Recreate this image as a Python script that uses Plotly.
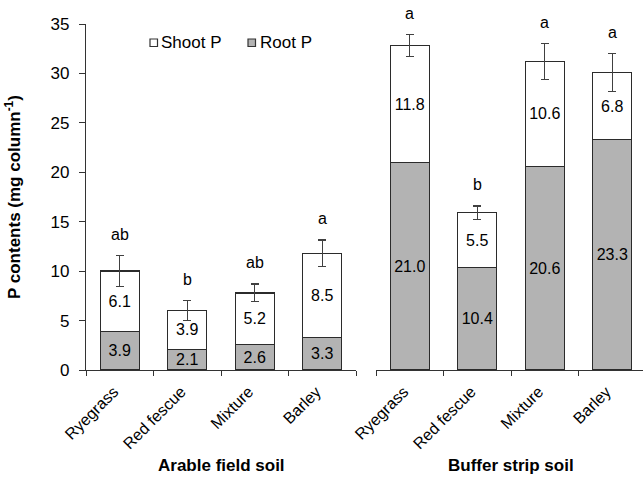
import plotly.graph_objects as go

categories = ["Ryegrass", "Red fescue", "Mixture", "Barley"]
groups = ["Arable field soil", "Buffer strip soil"]

arable_root = [3.9, 2.1, 2.6, 3.3]
arable_shoot = [6.1, 3.9, 5.2, 8.5]
arable_err = [1.55, 1.0, 0.9, 1.35]
arable_letters = ["ab", "b", "ab", "a"]

buffer_root = [21.0, 10.4, 20.6, 23.3]
buffer_shoot = [11.8, 5.5, 10.6, 6.8]
buffer_err = [1.1, 0.7, 1.8, 1.9]
buffer_letters = ["a", "b", "a", "a"]

FONT = "Arial, Liberation Sans, sans-serif"
GRAY = "#b3b3b3"
EDGE = "#2b2b2b"
ERRC = "#404040"

W, H = 643, 481
ML, MR, MT, MB = 86, 0, 24, 111
PW = W - ML - MR
PH = H - MT - MB

def px_x(p):
    return (p - ML) / PW

def px_y(p):
    return (H - MB - p) / PH

fig = go.Figure()

datasets = [
    ("x", arable_root, arable_shoot, arable_err, arable_letters),
    ("x2", buffer_root, buffer_shoot, buffer_err, buffer_letters),
]

annotations = []
for xa, root, shoot, err, letters in datasets:
    fig.add_trace(go.Bar(
        x=categories, y=root, xaxis=xa, yaxis="y",
        marker=dict(color=GRAY, line=dict(color=EDGE, width=1.3)),
        width=0.58, text=[f"{v:.1f}" for v in root],
        textposition="inside", insidetextanchor="middle",
        textfont=dict(family=FONT, size=16, color="black"),
        showlegend=False, name="Root P",
    ))
    fig.add_trace(go.Bar(
        x=categories, y=shoot, xaxis=xa, yaxis="y",
        marker=dict(color="white", line=dict(color=EDGE, width=1.3)),
        width=0.58, text=[f"{v:.1f}" for v in shoot],
        textposition="inside", insidetextanchor="middle",
        textfont=dict(family=FONT, size=16, color="black"),
        error_y=dict(type="data", array=err, visible=True, color=ERRC,
                     thickness=1.2, width=4),
        showlegend=False, name="Shoot P",
    ))
    for c, r, s, e, l in zip(categories, root, shoot, err, letters):
        annotations.append(dict(
            x=c, y=r + s + e, xref=xa, yref="y", text=l, showarrow=False,
            yanchor="bottom", yshift=11,
            font=dict(family=FONT, size=16, color="black"),
        ))

# group titles
g1c = px_x((86 + 356) / 2)
g2c = px_x((376 + 646) / 2)
for gx, gt in zip([g1c, g2c], groups):
    annotations.append(dict(
        x=gx, y=px_y(465), xref="paper", yref="paper", text=f"<b>{gt}</b>",
        showarrow=False, xanchor="center", yanchor="middle",
        font=dict(family=FONT, size=17, color="black"),
    ))

# y-axis title
annotations.append(dict(
    x=px_x(13), y=0.5, xref="paper", yref="paper",
    text="<b>P contents (mg column<sup>-1</sup>)</b>", textangle=-90,
    showarrow=False, xanchor="center", yanchor="middle",
    font=dict(family=FONT, size=17, color="black"),
))

# legend (manual)
shapes = []
legend_items = [("Shoot P", "white", 150, 159), ("Root P", GRAY, 248, 258)]
for name, col, sx, tx in legend_items:
    shapes.append(dict(
        type="rect", xref="paper", yref="paper",
        x0=px_x(sx), x1=px_x(sx + 7.5), y0=px_y(46.5), y1=px_y(39),
        fillcolor=col, line=dict(color="#333333", width=1.2),
    ))
    annotations.append(dict(
        x=px_x(tx), y=px_y(43), xref="paper", yref="paper", text=name,
        showarrow=False, xanchor="left", yanchor="middle",
        font=dict(family=FONT, size=17, color="black"),
    ))

d1 = [0, px_x(356)]
d2 = [px_x(376), 1.0]
cat_px = 67.5
x2_end = 3.5 - (646 - 643) / cat_px

xcommon = dict(
    type="category", showline=True, linecolor="#333333", linewidth=1.3,
    ticks="outside", ticklen=5, tickcolor="#333333", tickwidth=1.3,
    tickson="boundaries", tickangle=-45, showgrid=False, zeroline=False,
    ticklabelshift=-6, ticklabelstandoff=5,
    tickfont=dict(family=FONT, size=16, color="black"),
)

fig.update_layout(
    width=W, height=H,
    margin=dict(l=ML, r=MR, t=MT, b=MB, pad=0),
    paper_bgcolor="white", plot_bgcolor="white",
    barmode="stack", bargap=0.42,
    uniformtext=dict(minsize=16, mode="show"),
    xaxis=dict(domain=d1, anchor="y", range=[-0.5, 3.5], **xcommon),
    xaxis2=dict(domain=d2, anchor="y", range=[-0.5, x2_end], **xcommon),
    yaxis=dict(
        range=[0, 35], dtick=5, showline=True, linecolor="#333333",
        linewidth=1.3, ticks="outside", ticklen=6, tickcolor="#333333",
        tickwidth=1.3, showgrid=False, zeroline=False, anchor="x",
        ticklabelstandoff=6,
        tickfont=dict(family=FONT, size=17, color="black"),
    ),
    annotations=annotations,
    shapes=shapes,
    showlegend=False,
)

fig.write_html(
    "out.html",
    config={"displayModeBar": False},
    post_script="document.body.style.margin='0';document.body.style.padding='0';",
)
